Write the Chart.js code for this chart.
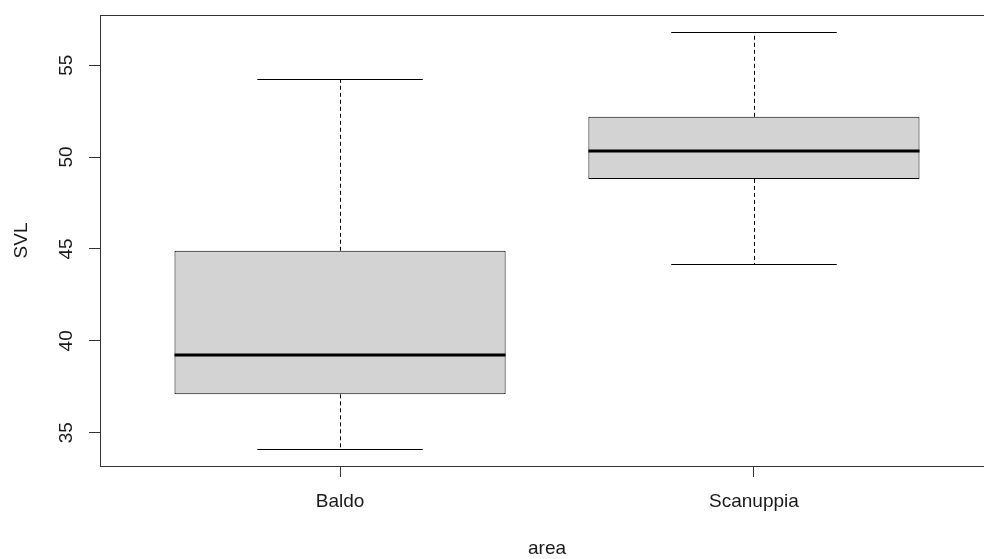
<!DOCTYPE html>
<html>
<head>
<meta charset="utf-8">
<script src="https://cdn.jsdelivr.net/npm/chart.js@4"></script>
<style>
  html, body { margin: 0; padding: 0; background: #ffffff; overflow: hidden; }
  #wrap { width: 1000px; height: 559px; position: relative; }
</style>
</head>
<body>
<div id="wrap"><canvas id="c"></canvas></div>
<script>
// ---- data ----
const categories   = ['Baldo', 'Scanuppia'];
const whiskerLow   = [34.10, 44.18];
const q1           = [37.09, 48.81];
const median       = [39.23, 50.31];
const q3           = [44.90, 52.19];
const whiskerHigh  = [54.26, 56.82];
const yTickValues  = [35, 40, 45, 50, 55];
const xTitle = 'area';
const yTitle = 'SVL';

// R-style axis ranges (4% extension)
const lo = Math.min(...whiskerLow), hi = Math.max(...whiskerHigh);
const yPad = (hi - lo) * 0.04;
const xLo = 0.5, xHi = categories.length + 0.5;
const xPad = (xHi - xLo) * 0.04;

const FONT = { family: '"Liberation Sans", Arial, sans-serif', size: 19 };
const TXT = '#1a1a1a';

const boxPlugin = {
  id: 'boxparts',
  afterDatasetsDraw(chart) {
    const ctx = chart.ctx;
    const ys = chart.scales.y;
    const meta = chart.getDatasetMeta(0);
    ctx.save();
    meta.data.forEach((el, i) => {
      const cx = Math.round(el.x) + 0.5;
      const w = el.width;
      const pLow = Math.round(ys.getPixelForValue(whiskerLow[i])) + 0.5;
      const pQ1 = ys.getPixelForValue(q1[i]);
      const pMed = ys.getPixelForValue(median[i]);
      const pQ3 = ys.getPixelForValue(q3[i]);
      const pHigh = Math.round(ys.getPixelForValue(whiskerHigh[i])) + 0.5;
      // dashed whiskers
      ctx.strokeStyle = '#000';
      ctx.lineWidth = 1;
      ctx.setLineDash([4, 3]);
      ctx.beginPath();
      ctx.moveTo(cx, pQ3); ctx.lineTo(cx, pHigh);
      ctx.moveTo(cx, pQ1); ctx.lineTo(cx, pLow);
      ctx.stroke();
      // caps
      ctx.setLineDash([]);
      ctx.beginPath();
      ctx.moveTo(el.x - w / 4, pHigh); ctx.lineTo(el.x + w / 4, pHigh);
      ctx.moveTo(el.x - w / 4, pLow); ctx.lineTo(el.x + w / 4, pLow);
      ctx.stroke();
      // median
      ctx.lineWidth = 3;
      ctx.beginPath();
      ctx.moveTo(el.x - w / 2, Math.round(pMed)); ctx.lineTo(el.x + w / 2, Math.round(pMed));
      ctx.stroke();
    });
    // frame
    const a = chart.chartArea;
    ctx.lineWidth = 1;
    ctx.strokeStyle = '#333';
    ctx.strokeRect(Math.round(a.left) + 0.5, Math.round(a.top) + 0.5,
                   Math.round(a.right - a.left), Math.round(a.bottom - a.top));
    ctx.restore();
  }
};

new Chart(document.getElementById('c'), {
  type: 'bar',
  data: {
    datasets: [{
      data: categories.map((c, i) => ({ x: i + 1, y: [q1[i], q3[i]] })),
      backgroundColor: '#D3D3D3',
      borderColor: '#000',
      borderWidth: 1,
      borderSkipped: false,
      barPercentage: 0.8,
      categoryPercentage: 1.0
    }]
  },
  options: {
    responsive: true,
    maintainAspectRatio: false,
    animation: false,
    events: [],
    layout: { padding: { top: 15, right: 6, bottom: 0, left: 0 } },
    plugins: { legend: { display: false }, tooltip: { enabled: false } },
    scales: {
      x: {
        type: 'linear',
        offset: false,
        min: xLo - xPad,
        max: xHi + xPad,
        afterBuildTicks: s => { s.ticks = categories.map((c, i) => ({ value: i + 1 })); },
        afterFit: s => { s.height = 93; s.paddingLeft = 0; s.paddingRight = 0; },
        ticks: {
          autoSkip: false,
          maxRotation: 0,
          padding: 13,
          color: TXT,
          font: FONT,
          callback: v => categories[v - 1]
        },
        grid: { offset: false, drawOnChartArea: false, drawTicks: true, tickLength: 11, tickColor: '#333', lineWidth: 1 },
        border: { display: false },
        title: { display: true, text: xTitle, color: TXT, font: { ...FONT, lineHeight: 1.0 }, padding: { top: 0, bottom: 1 } }
      },
      y: {
        type: 'linear',
        min: lo - yPad,
        max: hi + yPad,
        afterBuildTicks: s => { s.ticks = yTickValues.map(v => ({ value: v })); },
        afterFit: s => { s.width = 100; s.paddingTop = 0; s.paddingBottom = 0; },
        ticks: {
          autoSkip: false,
          minRotation: 90,
          maxRotation: 90,
          crossAlign: 'center',
          padding: 12,
          color: TXT,
          font: FONT
        },
        grid: { drawOnChartArea: false, drawTicks: true, tickLength: 11, tickColor: '#333', lineWidth: 1 },
        border: { display: false },
        title: { display: true, text: yTitle, color: TXT, font: FONT, padding: { top: 10, bottom: 0 } }
      }
    }
  },
  plugins: [boxPlugin]
});
</script>
</body>
</html>
